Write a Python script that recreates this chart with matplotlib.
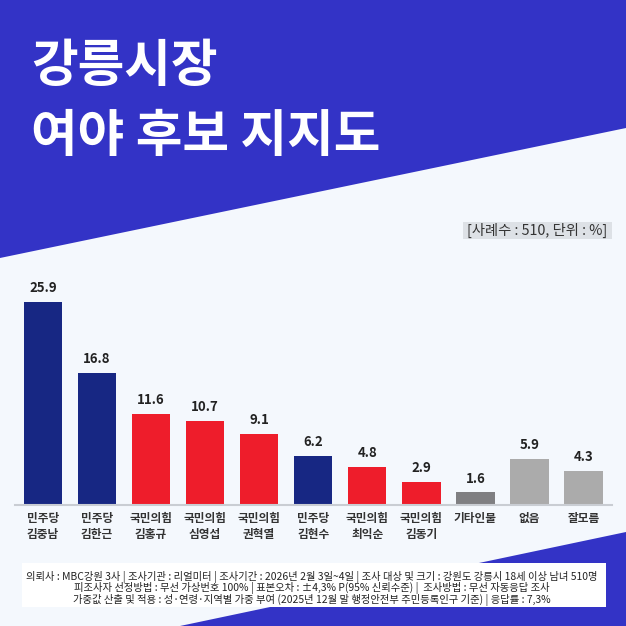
import matplotlib
matplotlib.use("Agg")
import matplotlib.pyplot as plt
from matplotlib.patches import Polygon, Rectangle

plt.rcParams['font.family'] = ['Noto Sans CJK KR', 'DejaVu Sans']

# ---- data ----
parties = ["민주당", "민주당", "국민의힘", "국민의힘", "국민의힘", "민주당", "국민의힘", "국민의힘", "기타인물", "없음", "잘모름"]
names = ["김중남", "김한근", "김홍규", "심영섭", "권혁열", "김현수", "최익순", "김동기", "", "", ""]
values = [25.9, 16.8, 11.6, 10.7, 9.1, 6.2, 4.8, 2.9, 1.6, 5.9, 4.3]
value_labels = ["25.9", "16.8", "11.6", "10.7", "9.1", "6.2", "4.8", "2.9", "1.6", "5.9", "4.3"]
title_lines = ["강릉시장", "여야 후보 지지도"]
unit_note = "[사례수 : 510, 단위 : %]"
footnotes = [
    "의뢰사 : MBC강원 3사 | 조사기관 : 리얼미터 | 조사기간 : 2026년 2월 3일~4일 | 조사 대상 및 크기 : 강원도 강릉시 18세 이상 남녀 510명",
    "피조사자 선정방법 : 무선 가상번호 100% | 표본오차 : ±4,3% P(95% 신뢰수준) |  조사방법 : 무선 자동응답 조사",
    "가중값 산출 및 적용 : 성·연령·지역별 가중 부여 (2025년 12월 말 행정안전부 주민등록인구 기준) | 응답률 : 7,3%",
]

BLUE = "#172783"
RED = "#EE1D2B"
DGRAY = "#7F7F82"
LGRAY = "#ABABAB"
color_map = {"민주당": BLUE, "국민의힘": RED, "기타인물": DGRAY, "없음": LGRAY, "잘모름": LGRAY}
colors = [color_map[p] for p in parties]

W = H = 626
fig = plt.figure(figsize=(6.26, 6.26), dpi=100)
fig.patch.set_facecolor("#F4F8FD")

# background decoration axes in pixel coords
bg = fig.add_axes([0, 0, 1, 1], zorder=0)
bg.set_xlim(0, W)
bg.set_ylim(H, 0)
bg.axis("off")
bg.add_patch(Polygon([(0, 0), (W, 0), (W, 128), (0, 258)], closed=True,
                     facecolor="#3333C6", edgecolor="none"))
bg.add_patch(Polygon([(W, 532), (W, H), (180, H)], closed=True,
                     facecolor="#3333C6", edgecolor="none"))
bg.add_patch(Rectangle((22, 563), 584, 44, facecolor="white", edgecolor="none"))

bg.text(31, 66, title_lines[0], color="white", fontsize=36.5, fontweight="bold",
        ha="left", va="center")
bg.text(31, 137, title_lines[1], color="white", fontsize=36.5, fontweight="bold",
        ha="left", va="center")

bg.add_patch(Rectangle((463, 222), 149, 17, facecolor="#DDE1E6", edgecolor="none"))
bg.text(537.5, 230.5, unit_note, color="#333333", fontsize=10.3, ha="center", va="center")

for i, line in enumerate(footnotes):
    bg.text(312, 577 + i * 11.5, line, color="#222222", fontsize=7.45,
            ha="center", va="center")

# bar chart axes
left_px, right_px = 15, 612
base_px, top_px = 505, 280
ax = fig.add_axes([left_px / W, (H - base_px) / H, (right_px - left_px) / W,
                   (base_px - top_px) / H], zorder=1)
ax.patch.set_alpha(0)
step = 54.05
x = list(range(len(values)))
ax.set_xlim(-(43 - left_px) / step, 10 + (right_px - 583.5) / step)
ax.set_ylim(0, (base_px - top_px) / 7.85)
ax.bar(x, values, width=0.71, color=colors)

for xi, v, lab in zip(x, values, value_labels):
    ax.annotate(lab, (xi, v), xytext=(0, 10), textcoords="offset points",
                ha="center", va="center", fontsize=9.5, fontweight="bold",
                color="#222222")

ticklabels = [p if n == "" else p + "\n" + n for p, n in zip(parties, names)]
ax.set_xticks(x)
ax.set_xticklabels(ticklabels, fontsize=8.4, color="#333333", linespacing=1.35,
                   fontweight="bold")
ax.tick_params(axis="x", length=0, pad=5)
ax.set_yticks([])
for s in ["top", "left", "right"]:
    ax.spines[s].set_visible(False)
ax.spines["bottom"].set_color("#C9CDD3")
ax.spines["bottom"].set_linewidth(1.5)

fig.savefig("out.png", dpi=100, facecolor=fig.get_facecolor())
